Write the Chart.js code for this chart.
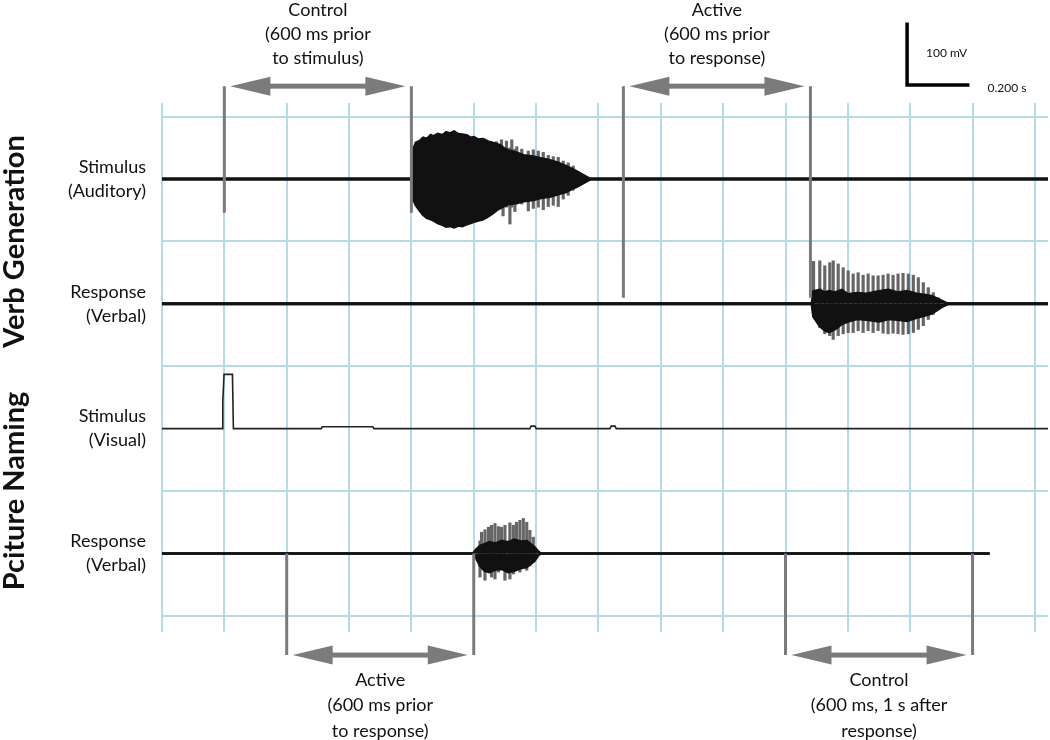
<!DOCTYPE html>
<html>
<head>
<meta charset="utf-8">
<script src="https://cdn.jsdelivr.net/npm/chart.js@4.4.1/dist/chart.umd.min.js"></script>
<style>
  body { margin: 0; background: #fff; }
  canvas { display: block; }
</style>
</head>
<body>
<canvas id="traces" width="1050" height="740"></canvas>
<script>
// grid: 0.2 s per column, 200 mV per row
const xTicks = [0, 0.2, 0.4, 0.6, 0.8, 1.0, 1.2, 1.4, 1.6, 1.8, 2.0, 2.2, 2.4, 2.6, 2.8];
const yTicks = [0, 200, 400, 600, 800];

const groupTitles = ['Verb Generation', 'Pciture Naming'];
const rowLabels = [['Stimulus', '(Auditory)'], ['Response', '(Verbal)'], ['Stimulus', '(Visual)'], ['Response', '(Verbal)']];
const rowBase = [700, 500, 300, 100];
const traceEnd = [2.842, 2.842, 2.842, 2.655];

// auditory stimulus (verb generation)
const audT  = [0.800, 0.805, 0.815, 0.827, 0.838, 0.850, 0.862, 0.870, 0.885, 0.900, 0.912, 0.924, 0.937, 0.950, 0.963, 0.977, 0.990, 1.000, 1.015, 1.030, 1.045, 1.060, 1.072, 1.084, 1.097, 1.110, 1.124, 1.138, 1.160, 1.191, 1.215, 1.244, 1.270, 1.298, 1.315, 1.330, 1.351, 1.373];
const audHi = [0, 45, 58, 61, 66, 64, 70, 68, 72, 70, 75, 73, 76, 72, 71, 70, 66, 67, 63, 64, 60, 58, 56, 54, 49, 46, 44, 42, 38, 36, 33, 30, 26, 20, 16, 12, 6, 0];
const audLo = [0, -30, -42, -50, -57, -62, -64, -66, -70, -73, -76, -75, -77, -74, -75, -72, -70, -68, -66, -64, -60, -55, -50, -46, -43, -40, -39, -38, -35, -33, -30, -28, -24, -20, -15, -12, -6, 0];
const audSpikeT  = [1.073, 1.089, 1.094, 1.105, 1.116, 1.122, 1.132, 1.138, 1.154, 1.175, 1.191, 1.207, 1.223, 1.239, 1.255, 1.271, 1.287, 1.303, 1.319];
const audSpikeHi = [60, 63, 50, 61, 50, 63, 48, 52, 48, 45, 47, 45, 43, 38, 36, 35, 29, 26, 21];
const audSpikeLo = [-45, -48, -59, -45, -72, -45, -52, -40, -40, -51, -47, -45, -49, -44, -42, -44, -32, -26, -18];

// verbal response (verb generation)
const vgT  = [2.085, 2.090, 2.110, 2.125, 2.140, 2.160, 2.180, 2.200, 2.230, 2.260, 2.300, 2.330, 2.360, 2.390, 2.420, 2.450, 2.470, 2.500, 2.520];
const vgHi = [0, 20, 22, 18, 20, 18, 22, 15, 17, 16, 20, 22, 18, 20, 16, 14, 12, 5, 0];
const vgLo = [0, -20, -35, -42, -45, -40, -32, -28, -24, -25, -28, -24, -25, -27, -22, -18, -15, -5, 0];
const vgSpikeT  = [2.090, 2.110, 2.126, 2.142, 2.153, 2.169, 2.185, 2.201, 2.217, 2.233, 2.249, 2.265, 2.281, 2.297, 2.313, 2.329, 2.345, 2.361, 2.377, 2.394, 2.410, 2.426, 2.442, 2.458, 2.474, 2.490];
const vgSpikeHi = [68, 69, 61, 66, 69, 64, 58, 53, 48, 50, 46, 48, 45, 45, 46, 48, 46, 48, 49, 48, 46, 42, 34, 26, 18, 10];
const vgSpikeLo = [-20, -38, -48, -51, -57, -51, -48, -46, -46, -43, -46, -43, -46, -43, -47, -48, -47, -48, -49, -48, -46, -41, -35, -25, -17, -9];

// visual stimulus (picture naming)
const visT = [0, 0.193, 0.195, 0.199, 0.226, 0.229, 0.511, 0.514, 0.676, 0.680, 1.180, 1.184, 1.196, 1.200, 1.437, 1.441, 1.453, 1.457, 2.842];
const visV = [0, 0, 43, 87, 87, 0, 0, 3, 3, 0, 0, 4, 4, 0, 0, 4, 4, 0, 0];

// verbal response (picture naming)
const pnT  = [0.998, 1.005, 1.020, 1.035, 1.050, 1.070, 1.090, 1.110, 1.130, 1.150, 1.170, 1.195, 1.207, 1.215];
const pnHi = [0, 5, 12, 15, 18, 16, 20, 18, 22, 19, 20, 10, 3, 0];
const pnLo = [0, -5, -20, -28, -30, -26, -25, -30, -28, -24, -22, -12, -3, 0];
const pnSpikeT  = [1.020, 1.025, 1.036, 1.047, 1.057, 1.068, 1.079, 1.089, 1.100, 1.116, 1.127, 1.137, 1.148, 1.159, 1.170, 1.180, 1.191];
const pnSpikeHi = [20, 34, 38, 42, 45, 48, 43, 42, 45, 49, 45, 50, 53, 56, 50, 37, 26];
const pnSpikeLo = [-38, -20, -43, -25, -38, -41, -30, -22, -43, -41, -33, -25, -30, -22, -27, -20, -14];

// analysis windows
const winStart = [0.2, 1.48, 0.4, 2.0];
const winEnd   = [0.8, 2.08, 1.0, 2.6];
const winLabels = [
    ['Control', '(600 ms prior', 'to stimulus)'],
    ['Active', '(600 ms prior', 'to response)'],
    ['Active', '(600 ms prior', 'to response)'],
    ['Control', '(600 ms, 1 s after', 'response)']
];

const FONT = 'Lato, "Open Sans", sans-serif';
const GREY = '#7b7b7b';

function trace(times, values, base, end) {
    const pts = [{x: 0, y: base}];
    times.forEach((t, i) => pts.push({x: t, y: base + values[i]}));
    pts.push({x: end, y: base});
    return pts;
}

function spikes(times, hi, lo, base) {
    return times.map((t, i) => ({x: t, y: [base + lo[i], base + hi[i]]}));
}

function envelope(data, base, width) {
    return {
        type: 'line', data: data, order: 1,
        borderColor: '#111', backgroundColor: '#111', borderWidth: width,
        pointRadius: 0, tension: 0, fill: {value: base}
    };
}

function spikeSet(data) {
    return {
        type: 'bar', data: data, order: 2, grouped: false,
        backgroundColor: '#666', borderWidth: 0, barThickness: 2.5
    };
}

const datasets = [
    envelope(trace(audT, audHi, rowBase[0], traceEnd[0]), rowBase[0], 3),
    envelope(trace(audT, audLo, rowBase[0], traceEnd[0]), rowBase[0], 3),
    spikeSet(spikes(audSpikeT, audSpikeHi, audSpikeLo, rowBase[0])),
    envelope(trace(vgT, vgHi, rowBase[1], traceEnd[1]), rowBase[1], 3),
    envelope(trace(vgT, vgLo, rowBase[1], traceEnd[1]), rowBase[1], 3),
    spikeSet(spikes(vgSpikeT, vgSpikeHi, vgSpikeLo, rowBase[1])),
    {
        type: 'line', order: 1,
        data: visT.map((t, i) => ({x: t, y: rowBase[2] + visV[i]})),
        borderColor: '#222', borderWidth: 1.6, pointRadius: 0, tension: 0, fill: false
    },
    envelope(trace(pnT, pnHi, rowBase[3], traceEnd[3]), rowBase[3], 2.5),
    envelope(trace(pnT, pnLo, rowBase[3], traceEnd[3]), rowBase[3], 2.5),
    spikeSet(spikes(pnSpikeT, pnSpikeHi, pnSpikeLo, rowBase[3]))
];

// marker extents in mV (top row windows hang from above, bottom row windows drop below)
const winTop = [849, 849, 100, 100];
const winBottom = [646, 510, -63, -63];
const winArrow = [849, 849, -63, -63];
const winAbove = [true, true, false, false];

const overlay = {
    id: 'overlay',
    afterDatasetsDraw(chart) {
        const ctx = chart.ctx;
        const xs = chart.scales.x, ys = chart.scales.y;
        ctx.save();

        // window markers and arrows
        winStart.forEach((s, i) => {
            const x1 = xs.getPixelForValue(s), x2 = xs.getPixelForValue(winEnd[i]);
            const yt = ys.getPixelForValue(winTop[i]), yb = ys.getPixelForValue(winBottom[i]);
            ctx.strokeStyle = GREY;
            ctx.lineWidth = 3;
            ctx.beginPath();
            ctx.moveTo(x1, yt); ctx.lineTo(x1, yb);
            ctx.moveTo(x2, yt); ctx.lineTo(x2, yb);
            ctx.stroke();

            const ay = ys.getPixelForValue(winArrow[i]);
            const a1 = x1 + 6, a2 = x2 - 6, head = 40, half = 9.5;
            ctx.fillStyle = GREY;
            ctx.fillRect(a1 + head - 4, ay - 2.5, a2 - a1 - 2 * head + 8, 5);
            ctx.beginPath();
            ctx.moveTo(a1, ay); ctx.lineTo(a1 + head, ay - half); ctx.lineTo(a1 + head, ay + half);
            ctx.closePath(); ctx.fill();
            ctx.beginPath();
            ctx.moveTo(a2, ay); ctx.lineTo(a2 - head, ay - half); ctx.lineTo(a2 - head, ay + half);
            ctx.closePath(); ctx.fill();

            ctx.fillStyle = '#111';
            ctx.font = '18px ' + FONT;
            ctx.textAlign = 'center';
            ctx.textBaseline = 'middle';
            const cx = (x1 + x2) / 2;
            winLabels[i].forEach((line, j) => {
                const ty = winAbove[i] ? ay - 76 + j * 24 : ay + 25 + j * 25.5;
                ctx.fillText(line, cx, ty);
            });
        });

        // row labels
        ctx.font = '18px ' + FONT;
        ctx.textAlign = 'right';
        ctx.fillStyle = '#111';
        rowLabels.forEach((lines, i) => {
            const y = ys.getPixelForValue(rowBase[i]);
            ctx.fillText(lines[0], 146, y - 12);
            ctx.fillText(lines[1], 146, y + 12);
        });

        // group titles, rotated
        ctx.font = 'bold 29px ' + FONT;
        ctx.textAlign = 'center';
        groupTitles.forEach((title, i) => {
            const y = (ys.getPixelForValue(rowBase[2 * i]) + ys.getPixelForValue(rowBase[2 * i + 1])) / 2;
            ctx.save();
            ctx.translate(15, y);
            ctx.rotate(-Math.PI / 2);
            ctx.fillText(title, 0, 0);
            ctx.restore();
        });

        // scale bar: 100 mV by 0.200 s
        const bx = xs.getPixelForValue(2.39), by = ys.getPixelForValue(851);
        const bTop = ys.getPixelForValue(951), bRight = xs.getPixelForValue(2.59);
        ctx.strokeStyle = '#000';
        ctx.lineWidth = 3.5;
        ctx.beginPath();
        ctx.moveTo(bx, bTop); ctx.lineTo(bx, by); ctx.lineTo(bRight, by);
        ctx.stroke();
        ctx.font = '12px ' + FONT;
        ctx.textAlign = 'left';
        ctx.fillText('100 mV', bx + 19, (bTop + by) / 2 - 1);
        ctx.fillText('0.200 s', bRight + 18, by + 3);

        ctx.restore();
    }
};

new Chart(document.getElementById('traces'), {
    type: 'line',
    data: {datasets: datasets},
    options: {
        responsive: false,
        animation: false,
        layout: {padding: {left: 162, right: 2, top: 103, bottom: 108}},
        plugins: {legend: {display: false}, tooltip: {enabled: false}},
        scales: {
            x: {
                type: 'linear', min: 0, max: 2.842, offset: false,
                afterBuildTicks: s => { s.ticks = xTicks.map(v => ({value: v})); },
                grid: {color: '#b5dbea', lineWidth: 2, drawTicks: false, offset: false},
                border: {display: false},
                ticks: {display: false}
            },
            y: {
                type: 'linear', min: -26, max: 822,
                afterBuildTicks: s => { s.ticks = yTicks.map(v => ({value: v})); },
                grid: {color: '#b5dbea', lineWidth: 2, drawTicks: false},
                border: {display: false},
                ticks: {display: false}
            }
        }
    },
    plugins: [overlay]
});
</script>
</body>
</html>
